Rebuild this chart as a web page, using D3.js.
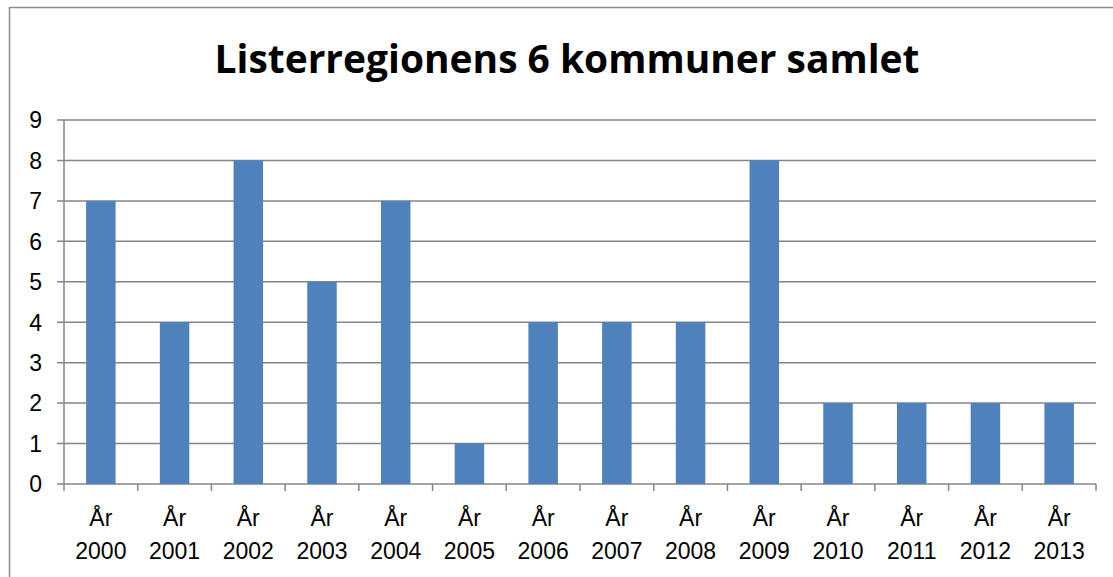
<!DOCTYPE html>
<html>
<head>
<meta charset="utf-8">
<script src="https://cdn.jsdelivr.net/npm/d3@7"></script>
<style>
  body { margin: 0; background: #fff; }
  svg { display: block; }
  text { font-family: "Liberation Sans", Arial, sans-serif; fill: #000; }
</style>
</head>
<body>
<svg id="chart" width="1113" height="577"></svg>
<script>
// data
let years = ['2000','2001','2002','2003','2004','2005','2006','2007','2008','2009','2010','2011','2012','2013'];
let values = [7, 4, 8, 5, 7, 1, 4, 4, 4, 8, 2, 2, 2, 2];
let yTicks = [0,1,2,3,4,5,6,7,8,9];
let title = 'Listerregionens 6 kommuner samlet';

let svg = d3.select('#chart');
let plotLeft = 64, plotRight = 1096, plotTop = 120, plotBottom = 484;

// chart border
svg.append('rect')
   .attr('x', 9.5).attr('y', 7.5)
   .attr('width', 1200).attr('height', 700)
   .attr('fill', 'none')
   .attr('stroke', '#8c8c8c')
   .attr('stroke-width', 1.5);

let x = d3.scaleBand()
          .domain(years)
          .range([plotLeft, plotRight])
          .paddingInner(0.6)
          .paddingOuter(0.3);

let y = d3.scaleLinear()
          .domain([0, 9])
          .range([plotBottom, plotTop]);

// gridlines
svg.append('g')
   .selectAll('line')
   .data(yTicks)
   .enter()
   .append('line')
   .attr('x1', plotLeft - 7)
   .attr('x2', plotRight)
   .attr('y1', d => y(d))
   .attr('y2', d => y(d))
   .attr('stroke', '#868686')
   .attr('stroke-width', 1.5);

// y axis line
svg.append('line')
   .attr('x1', plotLeft).attr('x2', plotLeft)
   .attr('y1', plotTop).attr('y2', plotBottom)
   .attr('stroke', '#868686')
   .attr('stroke-width', 1.5);

// y labels
svg.append('g')
   .selectAll('text')
   .data(yTicks)
   .enter()
   .append('text')
   .attr('x', 42)
   .attr('y', d => y(d))
   .attr('dy', '0.36em')
   .attr('text-anchor', 'end')
   .style('font-size', '23px')
   .text(d => d);

// bars
svg.append('g')
   .selectAll('rect')
   .data(values)
   .enter()
   .append('rect')
   .attr('x', (d, i) => x(years[i]))
   .attr('y', d => y(d))
   .attr('width', x.bandwidth())
   .attr('height', d => y(0) - y(d))
   .attr('fill', '#4f81bd');

// x tick marks at category boundaries
let boundaries = d3.range(years.length + 1).map(i => plotLeft + i * (plotRight - plotLeft) / years.length);
svg.append('g')
   .selectAll('line')
   .data(boundaries)
   .enter()
   .append('line')
   .attr('x1', d => d).attr('x2', d => d)
   .attr('y1', plotBottom).attr('y2', plotBottom + 7)
   .attr('stroke', '#868686')
   .attr('stroke-width', 1.5);

// x labels
let xl = svg.append('g')
   .selectAll('text')
   .data(years)
   .enter()
   .append('text')
   .attr('text-anchor', 'middle')
   .style('font-size', '23px');
xl.append('tspan')
  .attr('x', d => x(d) + x.bandwidth() / 2)
  .attr('y', 526)
  .text('År');
xl.append('tspan')
  .attr('x', d => x(d) + x.bandwidth() / 2)
  .attr('y', 559)
  .text(d => d);

// title
let t = svg.append('text')
   .attr('x', 567)
   .attr('y', 73)
   .attr('text-anchor', 'middle')
   .style('font-size', '40px')
   .style('font-weight', 'bold')
   .style('font-family', '"Open Sans", "Liberation Sans", sans-serif')
   .text(title);
let w = t.node().getComputedTextLength();
t.style('font-size', (40 * 705 / w) + 'px');
</script>
</body>
</html>
